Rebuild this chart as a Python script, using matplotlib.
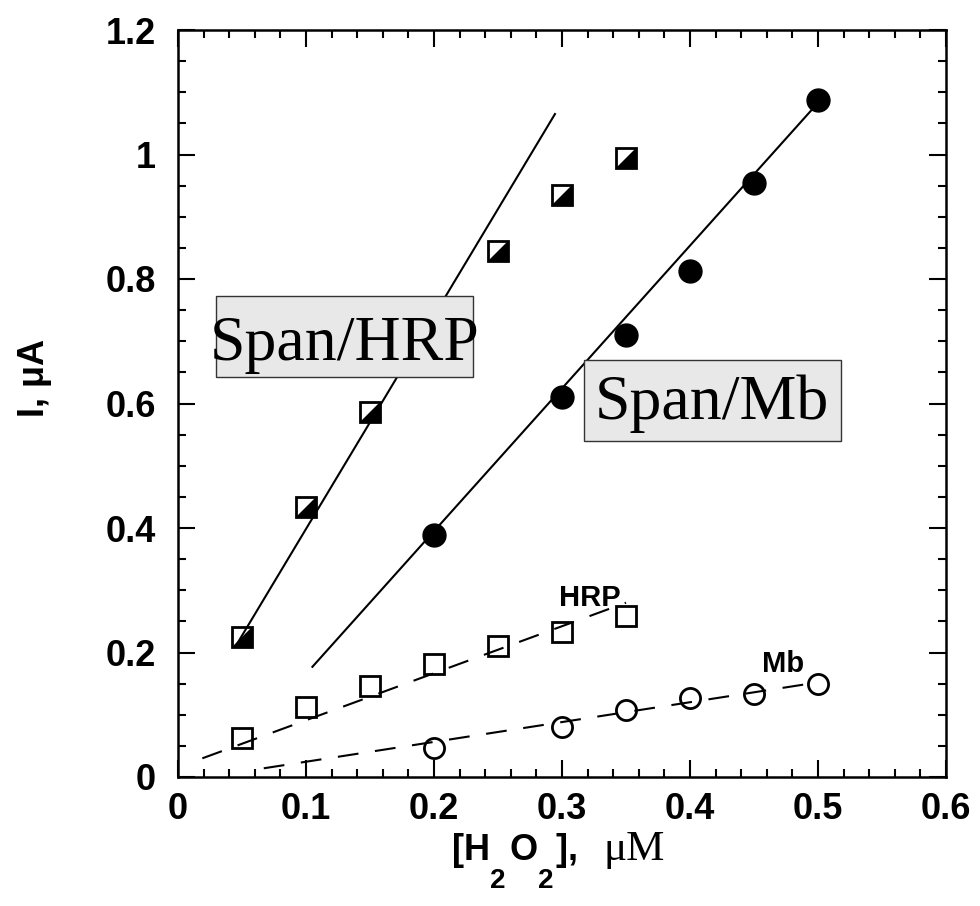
import numpy as np
import matplotlib
matplotlib.use("Agg")
import matplotlib.pyplot as plt
from matplotlib.patches import Rectangle
from matplotlib.ticker import MultipleLocator

# values
span_hrp_x = [0.05, 0.10, 0.15, 0.25, 0.30, 0.35]
span_hrp_y = [0.225, 0.433, 0.587, 0.845, 0.935, 0.995]
span_mb_x = [0.20, 0.30, 0.35, 0.40, 0.45, 0.50]
span_mb_y = [0.389, 0.610, 0.710, 0.813, 0.954, 1.088]
hrp_x = [0.05, 0.10, 0.15, 0.20, 0.25, 0.30, 0.35]
hrp_y = [0.063, 0.112, 0.146, 0.182, 0.210, 0.233, 0.259]
mb_x = [0.20, 0.30, 0.35, 0.40, 0.45, 0.50]
mb_y = [0.047, 0.080, 0.108, 0.127, 0.133, 0.149]

# fitted lines (end points)
span_hrp_fit_x = [0.045, 0.2945]
span_hrp_fit_y = [0.210, 1.065]
span_mb_fit_x = [0.105, 0.50]
span_mb_fit_y = [0.177, 1.083]
hrp_fit_x = [0.019, 0.35]
hrp_fit_y = [0.030, 0.280]
mb_fit_x = [0.067, 0.50]
mb_fit_y = [0.014, 0.152]

xticks = [0, 0.1, 0.2, 0.3, 0.4, 0.5, 0.6]
xtick_labels = ['0', '0.1', '0.2', '0.3', '0.4', '0.5', '0.6']
yticks = [0, 0.2, 0.4, 0.6, 0.8, 1.0, 1.2]
ytick_labels = ['0', '0.2', '0.4', '0.6', '0.8', '1', '1.2']

sans = 'Liberation Sans'
serif = 'Liberation Serif'

fig = plt.figure(figsize=(9.8, 9.06), dpi=100)
ax = fig.add_axes([178/980, 129/906, 768/980, 747/906])

lw = 1.5
ms = 14.5
# half filled squares: white square, black lower-right triangle
ax.plot(span_hrp_x, span_hrp_y, ls='none', marker='s', ms=ms, mfc='white', mec='black', mew=0, zorder=3)
ax.plot(span_hrp_x, span_hrp_y, ls='none', marker=[(-1, -1), (1, -1), (1, 1)], ms=ms, mfc='black', mew=0, zorder=3)
ax.plot(span_hrp_x, span_hrp_y, ls='none', marker='s', ms=ms, mfc='none', mec='black', mew=2, zorder=3)

ax.plot(span_mb_x, span_mb_y, ls='none', marker='o', ms=16.5, mfc='black', mec='black', mew=1, zorder=3)
ax.plot(hrp_x, hrp_y, ls='none', marker='s', ms=ms, mfc='white', mec='black', mew=2, zorder=3)
ax.plot(mb_x, mb_y, ls='none', marker='o', ms=ms, mfc='white', mec='black', mew=2, zorder=3)

ax.plot(span_hrp_fit_x, span_hrp_fit_y, color='black', lw=lw, zorder=4)
ax.plot(span_mb_fit_x, span_mb_fit_y, color='black', lw=lw, zorder=4)
ax.plot(hrp_fit_x, hrp_fit_y, color='black', lw=lw, ls=(0, (10, 8)), zorder=4)
ax.plot(mb_fit_x, mb_fit_y, color='black', lw=lw, ls=(0, (10, 8)), zorder=4)

ax.set_xlim(0, 0.6)
ax.set_ylim(0, 1.2)
ax.set_xticks(xticks)
ax.set_xticklabels(xtick_labels)
ax.set_yticks(yticks)
ax.set_yticklabels(ytick_labels)
ax.xaxis.set_minor_locator(MultipleLocator(0.02))
ax.yaxis.set_minor_locator(MultipleLocator(0.05))
ax.tick_params(which='both', direction='in', top=True, right=True, width=1.5)
ax.tick_params(which='major', length=12)
ax.tick_params(which='minor', length=6)
ax.tick_params(axis='x', pad=11)
ax.tick_params(axis='y', pad=16)
for lab in ax.get_xticklabels() + ax.get_yticklabels():
    lab.set_fontfamily(sans)
    lab.set_fontweight('bold')
    lab.set_fontsize(26)
for sp in ax.spines.values():
    sp.set_linewidth(1.8)

# boxed labels (text spills a little past the box, as in the original)
ax.add_patch(Rectangle((0.0297, 0.6426), 0.2008, 0.1301, facecolor='#e8e8e8',
                       edgecolor='#333333', lw=1, zorder=5))
ax.text(0.1305, 0.670, 'Span/HRP', family=serif, fontsize=46, ha='center', va='baseline', zorder=6)
ax.add_patch(Rectangle((0.317, 0.540), 0.201, 0.130, facecolor='#e8e8e8',
                       edgecolor='#333333', lw=1, zorder=5))
ax.text(0.417, 0.575, 'Span/Mb', family=serif, fontsize=46, ha='center', va='baseline', zorder=6)

ax.text(0.2977, 0.275, 'HRP', family=sans, fontweight='bold', fontsize=21, va='baseline', zorder=6)
ax.text(0.456, 0.169, 'Mb', family=sans, fontweight='bold', fontsize=21, va='baseline', zorder=6)

# y label
fig.text(35/980, 1 - 378/906, 'I, \u03bcA', family=sans, fontweight='bold', fontsize=26,
         rotation=90, ha='center', va='center')

# x label built from pieces so the subscripts sit low
bold = dict(family=sans, fontweight='bold', fontsize=26)
t = fig.text(452/980, 1 - 860/906, '[H', va='baseline', **bold)
def chain(prev, s, dx=0, dy=0, **kw):
    return ax.annotate(s, xy=(1, 0), xycoords=prev, xytext=(dx, dy),
                       textcoords='offset points', ha='left', va='bottom',
                       annotation_clip=False, **kw)
t = chain(t, '2', dx=0, dy=-19, family=sans, fontweight='bold', fontsize=20)
t = chain(t, 'O', dx=3, dy=19, **bold)
t = chain(t, '2', dx=0, dy=-19, family=sans, fontweight='bold', fontsize=20)
t = chain(t, '],  ', dx=2, dy=19, **bold)
t = chain(t, '\u03bcM', dx=4, dy=-1, family=serif, fontsize=31)

fig.savefig('out.png', dpi=100)
